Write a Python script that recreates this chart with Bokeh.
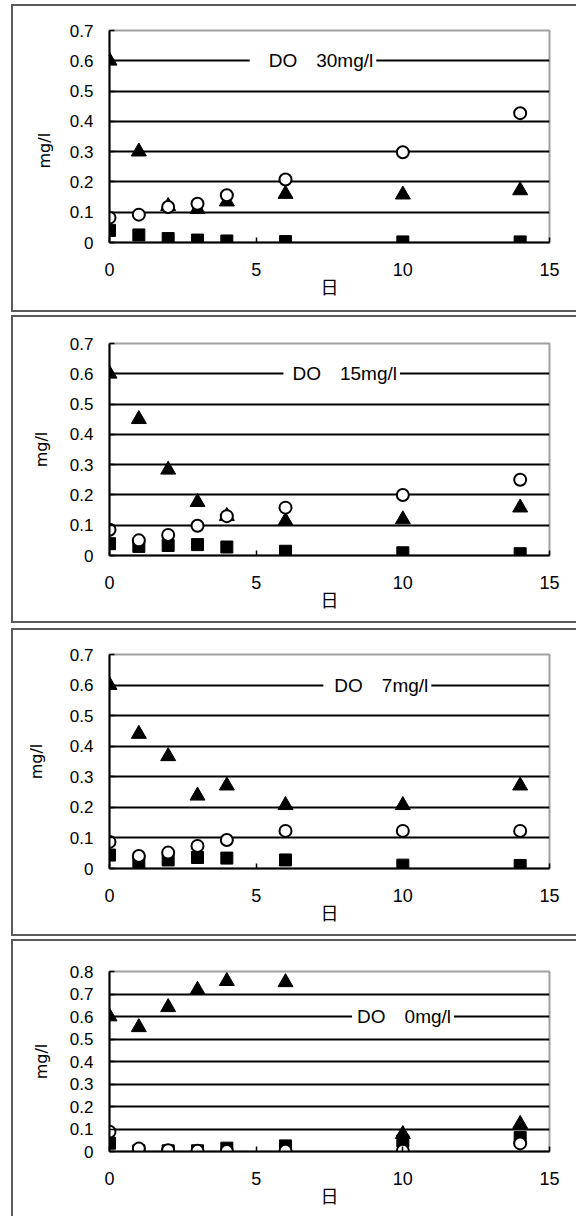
from bokeh.plotting import figure
from bokeh.models import Range1d, FixedTicker, Label, Title
from bokeh.layouts import column
from bokeh.embed import file_html
from bokeh.resources import INLINE

# ---------------- data ----------------
days = [0, 1, 2, 3, 4, 6, 10, 14]
x_ticks = [0, 5, 10, 15]
x_label = "日"
y_label = "mg/l"

panel_titles = ["DO\u300030mg/l", "DO\u300015mg/l", "DO\u30007mg/l", "DO\u30000mg/l"]

tri_do30 = [0.600, 0.300, 0.120, 0.110, 0.135, 0.160, 0.158, 0.172]
circ_do30 = [0.082, 0.092, 0.117, 0.128, 0.156, 0.208, 0.298, 0.427]
sq_do30 = [0.040, 0.025, 0.013, 0.008, 0.005, 0.003, 0.002, 0.002]

tri_do15 = [0.600, 0.450, 0.283, 0.176, 0.130, 0.114, 0.119, 0.158]
circ_do15 = [0.085, 0.050, 0.068, 0.098, 0.130, 0.158, 0.200, 0.250]
sq_do15 = [0.039, 0.030, 0.033, 0.036, 0.028, 0.014, 0.009, 0.006]

tri_do7 = [0.600, 0.440, 0.367, 0.238, 0.271, 0.207, 0.207, 0.271]
circ_do7 = [0.087, 0.041, 0.052, 0.074, 0.093, 0.123, 0.123, 0.123]
sq_do7 = [0.044, 0.022, 0.028, 0.036, 0.034, 0.028, 0.011, 0.010]

tri_do0 = [0.600, 0.552, 0.641, 0.718, 0.757, 0.752, 0.077, 0.122]
circ_do0 = [0.088, 0.013, 0.006, 0.003, 0.002, 0.003, 0.003, 0.036]
sq_do0 = [0.037, 0.003, 0.003, 0.003, 0.015, 0.025, 0.047, 0.062]

y_ticks_07 = [0, 0.1, 0.2, 0.3, 0.4, 0.5, 0.6, 0.7]
y_labels_07 = ["0", "0.1", "0.2", "0.3", "0.4", "0.5", "0.6", "0.7"]
y_ticks_08 = [0, 0.1, 0.2, 0.3, 0.4, 0.5, 0.6, 0.7, 0.8]
y_labels_08 = ["0", "0.1", "0.2", "0.3", "0.4", "0.5", "0.6", "0.7", "0.8"]

series = [
    (tri_do30, circ_do30, sq_do30, y_ticks_07, y_labels_07),
    (tri_do15, circ_do15, sq_do15, y_ticks_07, y_labels_07),
    (tri_do7, circ_do7, sq_do7, y_ticks_07, y_labels_07),
    (tri_do0, circ_do0, sq_do0, y_ticks_08, y_labels_08),
]

# ---------------- layout / style ----------------
# ylab: None -> regular axis label; otherwise offset (px from frame bottom)
# of a side title used as the y label
layout = [
    dict(h=304, mt=6, mbl=94, mbr=27, mbt=24, mbb=68, lx=4.78, pl=19, ys=26, ylab=74),
    dict(h=304, mt=7, mbl=86, mbr=22, mbt=26, mbb=66, lx=5.93, pl=9, ys=16, ylab=None),
    dict(h=304, mt=9, mbl=91, mbr=26, mbt=24, mbb=66, lx=7.29, pl=11, ys=21, ylab=None),
    dict(h=275, mt=7, mbl=96, mbr=26, mbt=30, mbb=65, lx=8.27, pl=5, ys=16, ylab=None),
]
FONT = "Liberation Sans"
YFONT = "DejaVu Sans"
JP = "Noto Sans CJK JP"
OUTLINE = "2px solid #5a5a5a"

figs = []
for (tri, circ, sq, yt, yl), L, title in zip(series, layout, panel_titles):
    p = figure(width=563, height=L["h"], x_range=Range1d(0, 15),
               y_range=Range1d(0, yt[-1]), output_backend="svg",
               toolbar_location=None, min_border_left=L["mbl"],
               min_border_right=L["mbr"], min_border_top=L["mbt"],
               min_border_bottom=L["mbb"], margin=(L["mt"], 0, 0, 13),
               styles={"outline": OUTLINE}, background_fill_color="white",
               border_fill_color="white")
    p.outline_line_color = "#a0a0a0"
    p.outline_line_width = 2
    p.xgrid.visible = False
    p.ygrid.ticker = FixedTicker(ticks=yt[1:-1])
    p.ygrid.grid_line_color = "black"
    p.ygrid.grid_line_width = 2

    xa = p.xaxis[0]
    xa.ticker = FixedTicker(ticks=x_ticks)
    xa.axis_line_color = "black"
    xa.axis_line_width = 2
    xa.major_tick_in = 5
    xa.major_tick_out = 0
    xa.major_tick_line_width = 1.5
    xa.minor_tick_line_color = None
    xa.major_label_standoff = 20
    xa.major_label_text_font = FONT
    xa.major_label_text_font_size = "18px"
    xa.major_label_text_color = "black"
    xa.axis_label = x_label
    xa.axis_label_text_font = JP
    xa.axis_label_text_font_size = "18px"
    xa.axis_label_text_font_style = "normal"
    xa.axis_label_text_color = "black"
    xa.axis_label_standoff = -6

    ya = p.yaxis[0]
    ya.ticker = FixedTicker(ticks=yt)
    ya.major_label_overrides = dict(zip(yt, yl))
    ya.axis_line_color = "black"
    ya.axis_line_width = 2
    ya.major_tick_in = 5
    ya.major_tick_out = 0
    ya.major_tick_line_width = 1.5
    ya.minor_tick_line_color = None
    ya.major_label_standoff = 16
    ya.major_label_text_font = FONT
    ya.major_label_text_font_size = "17px"
    ya.major_label_text_color = "black"
    if L["ylab"] is None:
        ya.axis_label = y_label
        ya.axis_label_text_font = YFONT
        ya.axis_label_text_font_size = "16px"
        ya.axis_label_text_font_style = "normal"
        ya.axis_label_text_color = "black"
        ya.axis_label_standoff = L["ys"]
    else:
        t = Title(text=y_label, align="left", offset=L["ylab"],
                  standoff=L["ys"], text_font=YFONT, text_font_size="16px",
                  text_font_style="normal", text_color="black")
        p.add_layout(t, "left")

    p.scatter(days, sq, marker="square", size=12, fill_color="black",
              line_color="black", line_width=1)
    p.scatter(days, tri, marker="triangle", size=15, fill_color="black",
              line_color="black", line_width=1)
    p.scatter(days, circ, marker="circle", size=12, fill_color="white",
              line_color="black", line_width=2)

    lab = Label(x=L["lx"], y=0.6, text=title, text_align="left",
                text_baseline="middle", text_font=FONT,
                text_font_size="19px", text_color="black",
                background_fill_color="white",
                padding=dict(left=L["pl"], right=3, top=0, bottom=0))
    p.add_layout(lab)
    figs.append(p)

root = column(*figs, spacing=0)
open("out.html", "w").write(file_html(root, INLINE))
